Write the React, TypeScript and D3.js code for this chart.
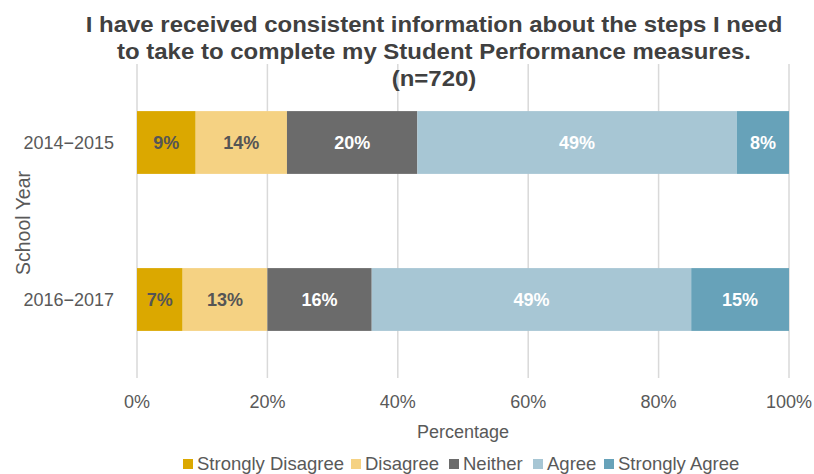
import React from "react";
import * as d3 from "d3";

const years = ["2014\u22122015", "2016\u22122017"];
const categories = ["Strongly Disagree", "Disagree", "Neither", "Agree", "Strongly Agree"];
const values2014 = [9, 14, 20, 49, 8];
const values2016 = [7, 13, 16, 49, 15];
const seriesValues = [values2014, values2016];
const xTicks = [0, 20, 40, 60, 80, 100];
const colors = ["#DBA800", "#F5D283", "#6B6B6B", "#A7C6D4", "#67A2B9"];
const labelColors = ["#555555", "#555555", "#ffffff", "#ffffff", "#ffffff"];
const titleLines = [
  "I have received consistent information about the steps I need",
  "to take to complete my Student Performance measures.",
  "(n=720)",
];

export default function App() {
  const W = 814, H = 474;
  const left = 137, right = 789, top = 64, bottom = 378;
  const x = d3.scaleLinear().domain([0, 100]).range([left, right]);
  const y = d3.scaleBand().domain(years).range([top, bottom]).paddingInner(0.6).paddingOuter(0.3);
  const font = "'Liberation Sans', Arial, sans-serif";
  const legendX = [183, 351, 449, 533, 604];

  return (
    <svg width={W} height={H} style={{ position: "absolute", left: 0, top: 0 }} fontFamily={font}>
      <rect width={W} height={H} fill="#fff" />
      {xTicks.map((t) => (
        <line key={t} x1={x(t)} x2={x(t)} y1={top} y2={bottom} stroke="#D9D9D9" strokeWidth={1.5} />
      ))}
      {years.map((yr, i) => {
        const vals = seriesValues[i];
        let cum = 0;
        return (
          <g key={yr}>
            {vals.map((v, j) => {
              const x0 = x(cum);
              cum += v;
              const x1 = x(cum);
              const yy = y(yr)!;
              return (
                <g key={j}>
                  <rect x={x0} y={yy} width={x1 - x0} height={y.bandwidth()} fill={colors[j]} />
                  <text x={(x0 + x1) / 2} y={yy + y.bandwidth() / 2} dy="0.36em" textAnchor="middle"
                    fontSize={18} fontWeight="bold" fill={labelColors[j]}>{v}%</text>
                </g>
              );
            })}
            <text x={114} y={y(yr)! + y.bandwidth() / 2} dy="0.36em" textAnchor="end" fontSize={18} fill="#595959">{yr}</text>
          </g>
        );
      })}
      {xTicks.map((t) => (
        <text key={t} x={x(t)} y={408} textAnchor="middle" fontSize={18} fill="#595959">{t}%</text>
      ))}
      <text x={(left + right) / 2} y={438} textAnchor="middle" fontSize={18} fill="#595959">Percentage</text>
      <text transform={`translate(30,223) rotate(-90)`} textAnchor="middle" fontSize={19.5} fill="#595959">School Year</text>
      {titleLines.map((l, i) => (
        <text key={i} transform={`translate(434,${31.5 + i * 27}) scale(1.09,1)`} textAnchor="middle"
          fontSize={22} fontWeight="bold" fill="#404040">{l}</text>
      ))}
      {categories.map((c, i) => (
        <g key={c}>
          <rect x={legendX[i]} y={459} width={10} height={10} fill={colors[i]} />
          <text x={legendX[i] + 14} y={470} fontSize={18.5} fill="#595959">{c}</text>
        </g>
      ))}
    </svg>
  );
}
